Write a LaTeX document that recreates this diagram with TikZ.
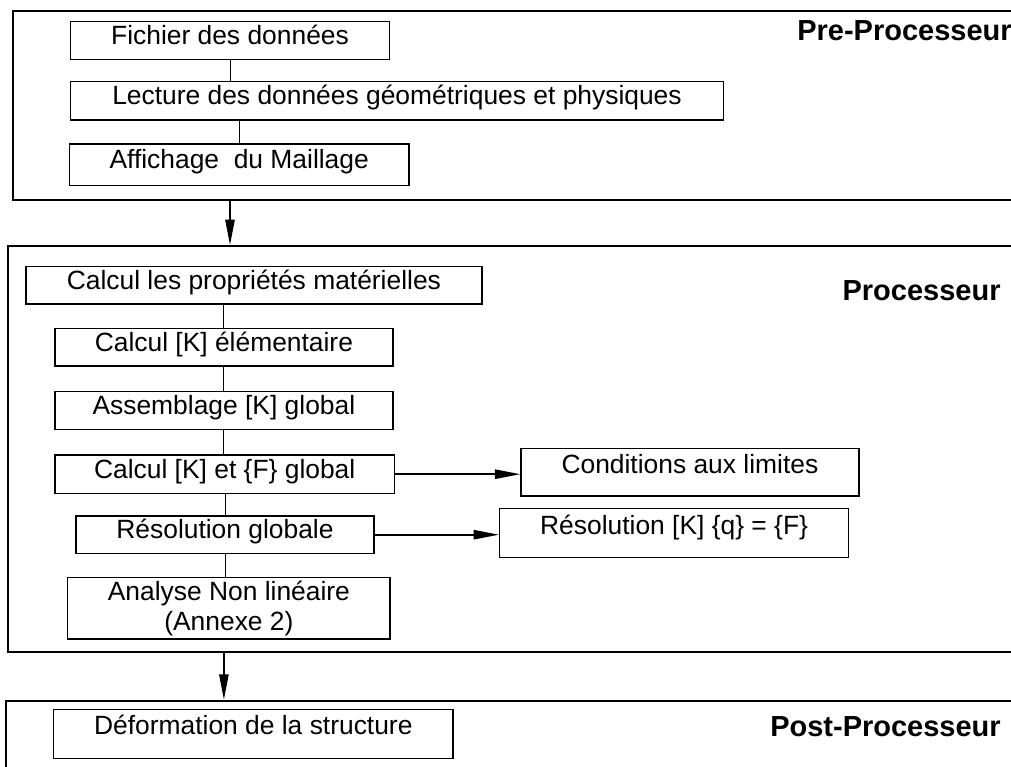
\documentclass[tikz,border=0pt]{standalone}
\usepackage{fontspec}
\setmainfont{Liberation Sans}
\usetikzlibrary{arrows.meta}

\begin{document}
\begin{tikzpicture}[x=0.75pt, y=-0.75pt,
	stage/.style={draw, line width=1.5pt, rectangle, inner sep=0pt},
	task/.style={draw, line width=1.1pt, rectangle, inner sep=0pt, font=\fontsize{19.8}{22.5}\selectfont, text height=0.8em, text depth=0.18em},
	tasktop/.style={task, text depth=#1},
	stagename/.style={anchor=base west, inner sep=0pt, font=\fontsize{21.75}{26}\selectfont\bfseries},
	link/.style={line width=0.75pt},
	flow/.style={line width=1.2pt, -{Triangle[length=19pt, width=7pt]}}]
\useasboundingbox (0,0) rectangle (1011,767);
\clip (0,0) rectangle (1011,767);

% stages
\node[stage, minimum width=1011.7*0.75pt, minimum height=189.3*0.75pt] (pre) at (519.15,105.35) {};
\node[stage, minimum width=1017.3*0.75pt, minimum height=405.7*0.75pt] (proc) at (516.35,448.85) {};
\node[stage, minimum width=1018.6*0.75pt, minimum height=100*0.75pt] (post) at (515.7,750.7) {};
\node[stagename] (prename) at (797,41) {Pre-Processeur};
\node[stagename] (procname) at (842.3,300.7) {Processeur};
\node[stagename] (postname) at (770,736) {Post-Processeur};

% pre-processeur
\node[task, minimum width=318.6*0.75pt, minimum height=37.6*0.75pt] (fichier) at (230,40.5) {Fichier des données};
\node[task, minimum width=652.6*0.75pt, minimum height=38.3*0.75pt] (lecture) at (397,100.8) {Lecture des données géométriques et physiques};
\node[task, minimum width=339.7*0.75pt, minimum height=41.7*0.75pt] (affichage) at (239.2,164.8) {Affichage\ \ du Maillage};
\draw[link] (fichier.south) -- (fichier.south |- lecture.north);
\draw[link] (lecture.south -| affichage.north) -- (affichage.north);

% processeur
\node[task, minimum width=456.2*0.75pt, minimum height=37.3*0.75pt] (props) at (253.9,285.3) {Calcul les propriétés matérielles};
\node[task, minimum width=338.2*0.75pt, minimum height=37.7*0.75pt] (kelem) at (223.9,347.2) {Calcul [K] élémentaire};
\node[task, minimum width=338.2*0.75pt, minimum height=37.6*0.75pt] (assemb) at (223.9,410.5) {Assemblage [K] global};
\node[task, minimum width=339.8*0.75pt, minimum height=38.3*0.75pt] (kf) at (224.7,474.2) {Calcul [K] et \{F\} global};
\node[tasktop=0.59em, minimum width=337.8*0.75pt, minimum height=47.7*0.75pt] (cond) at (689.9,472.2) {Conditions aux limites};
\node[task, minimum width=298*0.75pt, minimum height=37.3*0.75pt] (resglob) at (225,534.7) {Résolution globale};
\node[tasktop=0.5em, minimum width=348.8*0.75pt, minimum height=49*0.75pt] (resk) at (674.1,532.8) {Résolution [K] \{q\} = \{F\}};
\node[task, minimum width=322.3*0.75pt, minimum height=61.7*0.75pt, align=center, text height=, text depth=] (analyse) at (228.9,608.2) {Analyse Non linéaire\\(Annexe 2)};
\draw[link] (kelem.north) -- (kelem.north |- props.south);
\draw[link] (kelem.south) -- (assemb.north);
\draw[link] (assemb.south) -- (assemb.south |- kf.north);
\draw[link] (resglob.north) -- (resglob.north |- kf.south);
\draw[link] (resglob.south) -- (resglob.south |- analyse.north);
\draw[flow] (kf.east) -- (kf.east -| cond.west);
\draw[flow] (resglob.east) -- (resglob.east -| resk.west);

% post-processeur
\node[tasktop=0.7em, minimum width=399.5*0.75pt, minimum height=49*0.75pt] (deform) at (253.3,733.8) {Déformation de la structure};

\draw[flow] (pre.south -| fichier.south) -- (proc.north -| fichier.south);
\draw[flow] (proc.south -| kelem.south) -- (post.north -| kelem.south);

\end{tikzpicture}
\end{document}
